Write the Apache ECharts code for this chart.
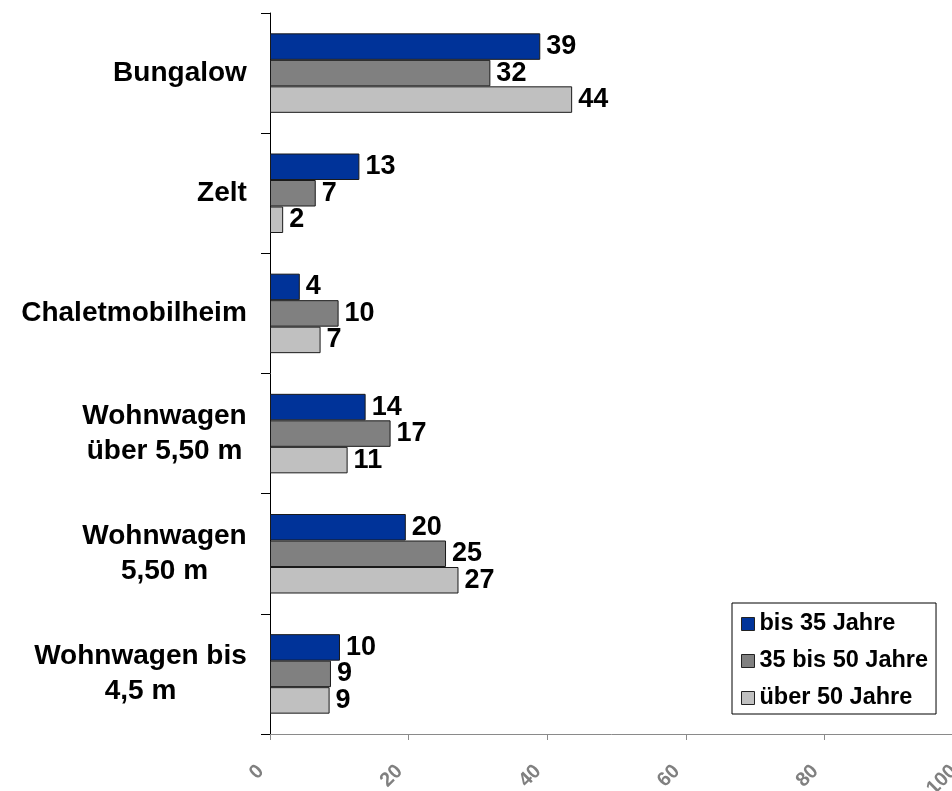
<!DOCTYPE html>
<html><head><meta charset="utf-8">
<script src="https://cdn.jsdelivr.net/npm/echarts@6/dist/echarts.min.js"></script>
<style>html,body{margin:0;padding:0;background:#fff}#c{width:952px;height:791px}</style>
</head><body><div id="c"></div>
<script>
const categories = ['Bungalow', 'Zelt', 'Chaletmobilheim', 'Wohnwagen\nüber 5,50 m', 'Wohnwagen\n5,50 m', 'Wohnwagen bis\n4,5 m'];
const seriesNames = ['bis 35 Jahre', '35 bis 50 Jahre', 'über 50 Jahre'];
const bis35 = [39.0, 12.9, 4.3, 13.8, 19.6, 10.1];
const bis50 = [31.8, 6.6, 9.9, 17.4, 25.4, 8.8];
const ueber50 = [43.6, 1.9, 7.3, 11.2, 27.2, 8.6];
const xTicks = [0, 20, 40, 60, 80, 100];

const FAMILY = '"Liberation Sans", Arial, sans-serif';
const ctx = document.createElement('canvas').getContext('2d');
ctx.font = 'bold 28px ' + FAMILY;
const rich = {};
categories.forEach((c, i) => {
  const w = Math.max(...c.split('\n').map(l => ctx.measureText(l).width));
  rich['c' + i] = { width: Math.ceil(w), align: 'center', fontSize: 28, fontWeight: 'bold', fontFamily: FAMILY, lineHeight: 35, color: '#000' };
});

const colors = ['#003399', '#808080', '#C0C0C0'];
const values = [bis35, bis50, ueber50];

const chart = echarts.init(document.getElementById('c'));
chart.setOption({
  animation: false,
  backgroundColor: '#fff',
  grid: { left: 270, top: 13, width: 693, height: 721, containLabel: false, outerBoundsMode: 'none' },
  legend: {
    data: seriesNames, orient: 'vertical', left: 732, top: 603,
    itemWidth: 13, itemHeight: 13, itemGap: 13, icon: 'rect',
    borderColor: '#000', borderWidth: 1, backgroundColor: '#fff',
    padding: [9, 8, 4, 9],
    textStyle: { fontSize: 23.5, fontWeight: 'bold', color: '#000', fontFamily: FAMILY, lineHeight: 23 },
    itemStyle: { borderColor: '#222', borderWidth: 1 }
  },
  xAxis: {
    type: 'value', min: xTicks[0], max: xTicks[xTicks.length - 1], interval: 20,
    axisLine: { show: true, lineStyle: { color: '#8a8a8a', width: 1 } },
    axisTick: { show: true, length: 6, lineStyle: { color: '#8a8a8a' } },
    splitLine: { show: false },
    axisLabel: { rotate: 45, margin: 25, padding: [0, 13, 0, 0], color: '#808080', fontSize: 20, fontWeight: 'bold', fontFamily: FAMILY, showMaxLabel: true }
  },
  yAxis: {
    type: 'category', inverse: true, data: categories,
    axisLine: { show: true, lineStyle: { color: '#000', width: 1 } },
    axisTick: { show: true, length: 9, lineStyle: { color: '#000' } },
    axisLabel: {
      margin: 23, align: 'right',
      formatter: (v, idx) => v.split('\n').map(l => '{c' + idx + '|' + l + '}').join('\n'),
      rich: rich
    }
  },
  series: seriesNames.map((name, i) => ({
    name: name, type: 'bar', data: values[i],
    barWidth: 26.5, barGap: '0%',
    itemStyle: { color: colors[i], borderColor: '#1a1a1a', borderWidth: 1 },
    label: {
      show: true, position: 'right', distance: 6,
      formatter: p => String(Math.round(p.value)),
      fontSize: 27, fontWeight: 'bold', color: '#000', fontFamily: FAMILY
    }
  }))
});
</script></body></html>
